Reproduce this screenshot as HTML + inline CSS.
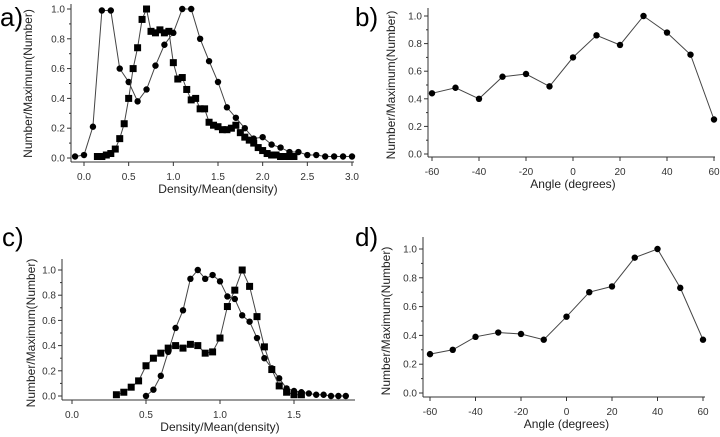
<!DOCTYPE html>
<html><head><meta charset="utf-8"><style>
body{margin:0;background:#fff;width:720px;height:437px;overflow:hidden}
svg{display:block;font-family:"Liberation Sans",sans-serif}
</style></head><body>
<svg id="fig" width="720" height="437"></svg>
<script>
// Panel a data
const aCircleX = [-0.1,0,0.1,0.2,0.3,0.4,0.5,0.6,0.7,0.8,0.9,1.0,1.1,1.2,1.3,1.4,1.5,1.6,1.7,1.8,1.9,2.0,2.1,2.2,2.3,2.4,2.5,2.6,2.7,2.8,2.9,3.0];
const aCircleY = [0.01,0.02,0.21,0.99,0.99,0.60,0.51,0.38,0.46,0.62,0.76,0.84,1.0,1.0,0.80,0.65,0.51,0.34,0.27,0.20,0.13,0.14,0.09,0.07,0.04,0.04,0.02,0.02,0.01,0.01,0.01,0.01];
const aSquareX = [0.15,0.2,0.25,0.3,0.35,0.4,0.45,0.5,0.55,0.6,0.65,0.7,0.75,0.8,0.85,0.9,0.95,1.0,1.05,1.1,1.15,1.2,1.25,1.3,1.35,1.4,1.45,1.5,1.55,1.6,1.65,1.7,1.75,1.8,1.85,1.9,1.95,2.0,2.05,2.1,2.15,2.2,2.25,2.3,2.35];
const aSquareY = [0.01,0.01,0.02,0.03,0.06,0.13,0.23,0.40,0.60,0.74,0.93,1.0,0.85,0.84,0.86,0.84,0.85,0.64,0.53,0.54,0.46,0.39,0.40,0.33,0.33,0.24,0.22,0.21,0.19,0.19,0.20,0.22,0.17,0.14,0.12,0.10,0.07,0.05,0.03,0.02,0.02,0.01,0.01,0.01,0.01];
const aXTicks = ["0.0","0.5","1.0","1.5","2.0","2.5","3.0"];
// Panel b data
const angles = [-60,-50,-40,-30,-20,-10,0,10,20,30,40,50,60];
const bValues = [0.44,0.48,0.40,0.56,0.58,0.49,0.70,0.86,0.79,1.0,0.88,0.72,0.25];
const angleTicks = ["-60","-40","-20","0","20","40","60"];
// Panel c data
const cCircleX = [0.5,0.55,0.6,0.65,0.7,0.75,0.8,0.85,0.9,0.95,1.0,1.05,1.1,1.15,1.2,1.25,1.3,1.35,1.4,1.45,1.5,1.55,1.6,1.65,1.7,1.75,1.8,1.85];
const cCircleY = [0.0,0.05,0.16,0.35,0.54,0.68,0.93,1.0,0.93,0.96,0.91,0.79,0.77,0.64,0.59,0.46,0.30,0.22,0.14,0.06,0.04,0.03,0.02,0.01,0.01,0.0,0.0,0.0];
const cSquareX = [0.3,0.35,0.4,0.45,0.5,0.55,0.6,0.65,0.7,0.75,0.8,0.85,0.9,0.95,1.0,1.05,1.1,1.15,1.2,1.25,1.3,1.35,1.4,1.45,1.5,1.55];
const cSquareY = [0.01,0.03,0.07,0.12,0.24,0.30,0.34,0.38,0.40,0.38,0.41,0.40,0.34,0.35,0.46,0.71,0.84,1.0,0.87,0.63,0.39,0.21,0.08,0.03,0.01,0.01];
const cXTicks = ["0.0","0.5","1.0","1.5"];
// Panel d data
const dValues = [0.27,0.30,0.39,0.42,0.41,0.37,0.53,0.70,0.74,0.94,1.0,0.73,0.37];
const yTicks = ["0.0","0.2","0.4","0.6","0.8","1.0"];

const NS="http://www.w3.org/2000/svg";
const svg=document.getElementById('fig');
function mk(tag,attrs,parent){const e=document.createElementNS(NS,tag);for(const k in attrs)e.setAttribute(k,attrs[k]);(parent||svg).appendChild(e);return e;}

function panel(p){
  const g=mk('g',{});
  
  
  const sx=v=>p.x0+(v-p.xv0)/(p.xv1-p.xv0)*(p.x1-p.x0);
  const sy=v=>p.y0+(v)*(p.y1-p.y0);
  // axes
  const ya=mk('line',{x1:p.ax,y1:p.ytop,x2:p.ax,y2:p.ay,stroke:'#333','stroke-width':1},g);
  
  
  const xa=mk('line',{x1:p.ax,y1:p.ay,x2:p.xend,y2:p.ay,stroke:'#333','stroke-width':1},g);
  
  
  yTicks.forEach(t=>{const y=sy(parseFloat(t));
    mk('line',{x1:p.ax-4,y1:y,x2:p.ax,y2:y,stroke:'#333'},g);
    const tx=mk('text',{x:p.ax-6,y:y+3.5,'font-size':10,'text-anchor':'end',fill:'#333'},g);tx.textContent=t;
    
    
  });
  for(let v=0.1;v<1.0;v+=0.2){const y=sy(v);mk('line',{x1:p.ax-2,y1:y,x2:p.ax,y2:y,stroke:'#333'},g);}
  p.xticks.forEach(t=>{const x=sx(parseFloat(t));
    mk('line',{x1:x,y1:p.ay,x2:x,y2:p.ay+4,stroke:'#333'},g);
    const tx=mk('text',{x:x,y:p.ay+18,'font-size':10,'text-anchor':'middle',fill:'#333'},g);tx.textContent=t;
    
    
  });
  const xt=mk('text',{x:(p.x0+p.x1)/2,y:p.ay+31,'font-size':12,'text-anchor':'middle',fill:'#222'},g);xt.textContent=p.xtitle;
  
  
  const yt=mk('text',{x:0,y:0,'font-size':12,'text-anchor':'middle',fill:'#222',transform:`translate(${p.ytx},${(p.y0+p.y1)/2}) rotate(-90)`},g);yt.textContent='Number/Maximum(Number)';
  
  
  const lb=mk('text',{x:p.lx,y:p.ly,'font-size':26,fill:'#000'},g);lb.textContent=p.label;
  
  
  p.series.forEach(s=>{
    const pts=s.xs.map((x,i)=>sx(x).toFixed(1)+','+sy(s.ys[i]).toFixed(1)).join(' ');
    const pl=mk('polyline',{points:pts,fill:'none',stroke:'#444','stroke-width':1},g);
    
    
    s.xs.forEach((x,i)=>{
      let m;
      if(s.sq){m=mk('rect',{x:sx(x)-3.5,y:sy(s.ys[i])-3.5,width:7,height:7,fill:'#000'},g);}
      else{m=mk('circle',{cx:sx(x),cy:sy(s.ys[i]),r:3.2,fill:'#000'},g);}
      
      
    });
  });
}
// y1 is pixel of value 0 minus y of value 1 handled: sy(v)=y0+v*(y1-y0) where y0=pixel at 0, y1=pixel at 1
panel({name:'panel-a',label:'a)',lx:0,ly:26,x0:84,x1:352,xv0:0,xv1:3,y0:158,y1:9,ax:71,ay:162,ytop:4,xend:354,ytx:32,
  xticks:aXTicks,xtitle:'Density/Mean(density)',
  series:[{name:'a-circle',xs:aCircleX,ys:aCircleY},{name:'a-square',xs:aSquareX,ys:aSquareY,sq:true}]});
panel({name:'panel-b',label:'b)',lx:355,ly:26,x0:432,x1:714,xv0:-60,xv1:60,y0:154,y1:16,ax:428,ay:157,ytop:8,xend:715,ytx:395,
  xticks:angleTicks,xtitle:'Angle (degrees)',
  series:[{name:'b',xs:angles,ys:bValues}]});
panel({name:'panel-c',label:'c)',lx:2,ly:246,x0:72,x1:368,xv0:0,xv1:2,y0:396,y1:270,ax:62,ay:400,ytop:259,xend:355,ytx:35,
  xticks:cXTicks,xtitle:'Density/Mean(density)',
  series:[{name:'c-circle',xs:cCircleX,ys:cCircleY},{name:'c-square',xs:cSquareX,ys:cSquareY,sq:true}]});
panel({name:'panel-d',label:'d)',lx:355,ly:246,x0:430,x1:703,xv0:-60,xv1:60,y0:393,y1:249,ax:423,ay:397,ytop:237,xend:705,ytx:390,
  xticks:angleTicks,xtitle:'Angle (degrees)',
  series:[{name:'d',xs:angles,ys:dValues}]});
</script>
</body></html>
